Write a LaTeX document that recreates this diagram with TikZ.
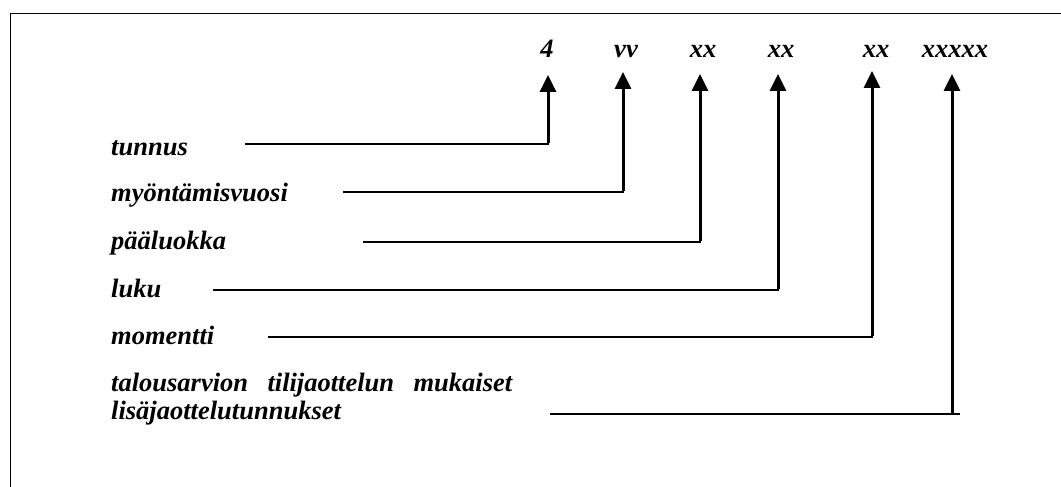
\documentclass[tikz,border=0pt]{standalone}
\usepackage{fontspec}
\setmainfont{Liberation Serif}
\usetikzlibrary{arrows.meta}
\begin{document}
\begin{tikzpicture}[x=1pt,y=-1pt,
  lab/.style={font=\fontsize{26.5}{27.5}\selectfont\bfseries\itshape, inner sep=0pt, text=black},
  code/.style={lab, anchor=base},
  hline/.style={line width=1.6pt, draw=black},
  arr/.style={line width=3pt, draw=black, -{Triangle[width=16pt,length=17pt]}},
  frame/.style={line width=1.6pt, draw=black}]
\useasboundingbox (0,0) rectangle (1061,487);
\draw[frame] (10.5,487) -- (10.5,13.5) -- (1061,13.5);
% top codes
\node[code] (t1) at (547,58) {4};
\node[code] (t2) at (626,58) {vv};
\node[code] (t3) at (703,58) {xx};
\node[code] (t4) at (781,58) {xx};
\node[code] (t5) at (876,58) {xx};
\node[code] (t6) at (955,58) {xxxxx};
% arrow tips
\coordinate (p1) at (548,75);
\coordinate (p2) at (623,72);
\coordinate (p3) at (700,74);
\coordinate (p4) at (778,74);
\coordinate (p5) at (872,71);
\coordinate (p6) at (952,74);
% left labels
\node[lab, anchor=base west] (l1) at (111,155) {tunnus};
\node[lab, anchor=base west] (l2) at (111,201) {myöntämisvuosi};
\node[lab, anchor=base west] (l3) at (111,249) {pääluokka};
\node[lab, anchor=base west] (l4) at (111,297) {luku};
\node[lab, anchor=base west] (l5) at (111,344) {momentti};
\node[lab, anchor=north west, text width=401pt, align=justify,
  execute at begin node={\hyphenpenalty=10000}] (l6) at (111,373)
  {talousarvion tilijaottelun mukaiset lisäjaottelutunnukset};
% line starts and corners
\coordinate (s1) at (245,144);  \coordinate (c1) at (548,144);
\coordinate (s2) at (343,192);  \coordinate (c2) at (623,192);
\coordinate (s3) at (363,242);  \coordinate (c3) at (700,242);
\coordinate (s4) at (213,290);  \coordinate (c4) at (778,290);
\coordinate (s5) at (268,337);  \coordinate (c5) at (872,337);
\coordinate (s6) at (550,414);  \coordinate (c6) at (952,414); \coordinate (e6) at (960,414);
% connectors
\draw[hline] (s1) -- ([xshift=0.8pt]c1);
\draw[hline] (s2) -- ([xshift=0.8pt]c2);
\draw[hline] (s3) -- ([xshift=0.8pt]c3);
\draw[hline] (s4) -- ([xshift=0.8pt]c4);
\draw[hline] (s5) -- ([xshift=0.8pt]c5);
\draw[hline] (s6) -- (e6);
\draw[arr] ([yshift=0.8pt]c1) -- (p1);
\draw[arr] ([yshift=0.8pt]c2) -- (p2);
\draw[arr] ([yshift=0.8pt]c3) -- (p3);
\draw[arr] ([yshift=0.8pt]c4) -- (p4);
\draw[arr] ([yshift=0.8pt]c5) -- (p5);
\draw[arr] ([yshift=0.8pt]c6) -- (p6);
\end{tikzpicture}
\end{document}
